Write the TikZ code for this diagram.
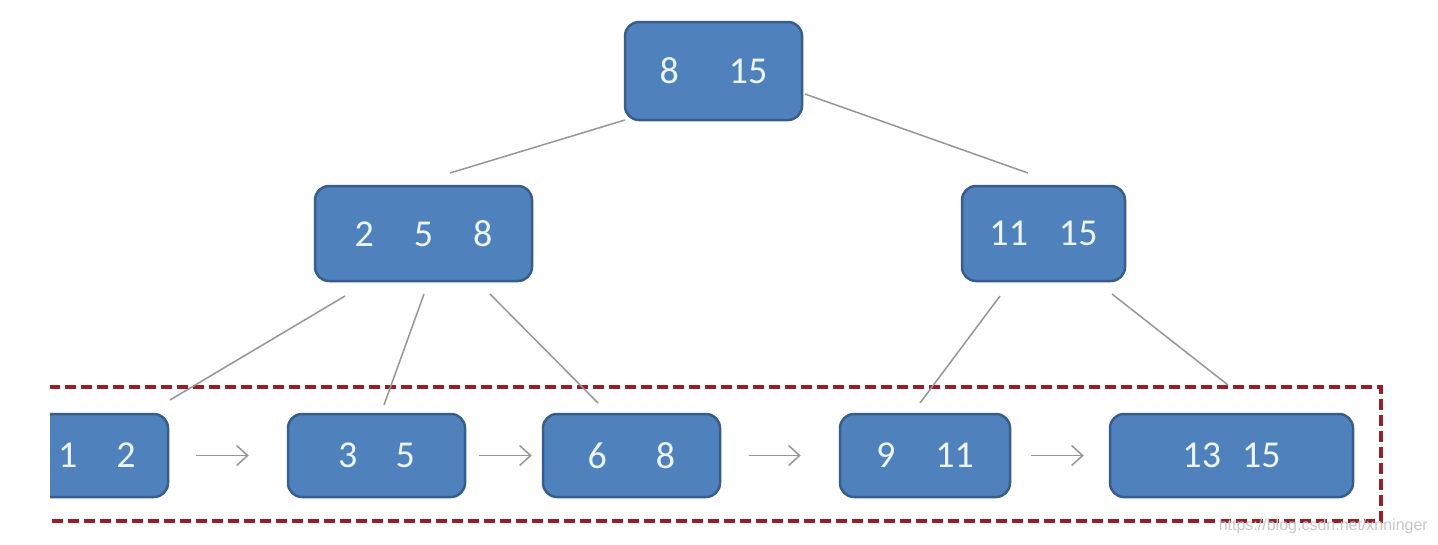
\documentclass[tikz,border=0pt]{standalone}
\usepackage{fontspec}
\setmainfont{Carlito}
\newfontfamily\wmfont{Liberation Sans}
\usetikzlibrary{arrows.meta}
\definecolor{boxfill}{RGB}{79,129,189}
\definecolor{boxline}{RGB}{56,93,138}
\definecolor{boxtext}{RGB}{236,245,250}
\definecolor{linkgray}{RGB}{150,150,150}
\definecolor{dashred}{RGB}{150,32,42}
\tikzset{
  keybox/.style={draw=boxline, line width=2.5pt, fill=boxfill, rounded corners=14pt,
    text=boxtext, font=\fontsize{38}{40}\selectfont, inner sep=0pt, anchor=center},
  link/.style={draw=linkgray, line width=1.5pt},
  arr/.style={draw=linkgray, line width=1.5pt, -{Straight Barb[length=11pt,width=20pt,line width=1.5pt]}},
  leafzone/.style={draw=dashred, line width=4pt, dash pattern=on 11pt off 5pt}
}
\begin{document}
\begin{tikzpicture}[x=1pt,y=-1pt]
\useasboundingbox (0,0) rectangle (1438,544);
\fill[white] (0,0) rectangle (1438,544);
\begin{scope}
\clip (50,0) rectangle (1438,544);
% nodes
\node[keybox, minimum width=177pt, minimum height=98pt] (root) at (713.5,71) {8\hspace{50pt}15};
\node[keybox, minimum width=217pt, minimum height=95pt] (lm) at (423.5,233.5) {2\hspace{40pt}5\hspace{40pt}8};
\node[keybox, minimum width=163pt, minimum height=95pt] (rm) at (1043.5,233.5) {11\hspace{31pt}15};
\node[keybox, minimum width=142pt, minimum height=83pt] (l1) at (97,455.5) {1\hspace{39pt}2};
\node[keybox, minimum width=177pt, minimum height=83pt] (l2) at (376.5,455.5) {3\hspace{38pt}5};
\node[keybox, minimum width=177pt, minimum height=83pt] (l3) at (631.5,455.5) {6\hspace{49pt}8};
\node[keybox, minimum width=170pt, minimum height=83pt] (l4) at (925,455.5) {9\hspace{40pt}11};
\node[keybox, minimum width=243pt, minimum height=83pt] (l5) at (1231.5,455.5) {13\hspace{21pt}15};
% dashed leaf zone
\node[leafzone, minimum width=1361pt, minimum height=134pt, inner sep=0pt] (zone) at (700.5,454) {};
% tree links
\coordinate (r1) at (625,120); \coordinate (r2) at (450,173);
\coordinate (r3) at (805,94);  \coordinate (r4) at (1028,173);
\coordinate (a1) at (345,296); \coordinate (a2) at (170,400);
\coordinate (b1) at (424,294); \coordinate (b2) at (384,405);
\coordinate (c1) at (490,294); \coordinate (c2) at (598,403);
\coordinate (d1) at (1000,296); \coordinate (d2) at (920,403);
\coordinate (e1) at (1112,294); \coordinate (e2) at (1228,385);
\draw[link] (r1) -- (r2);
\draw[link] (r3) -- (r4);
\draw[link] (a1) -- (a2);
\draw[link] (b1) -- (b2);
\draw[link] (c1) -- (c2);
\draw[link] (d1) -- (d2);
\draw[link] (e1) -- (e2);
% leaf arrows
\draw[arr] ([xshift=27pt]l1.east) -- ([xshift=-38pt]l2.west);
\draw[arr] ([xshift=13pt]l2.east) -- ([xshift=-10pt]l3.west);
\draw[arr] ([xshift=28pt]l3.east) -- ([xshift=-38pt]l4.west);
\draw[arr] ([xshift=20pt]l4.east) -- ([xshift=-25pt]l5.west);
\end{scope}
\node[anchor=east, text=black!22, font=\wmfont\fontsize{16}{17}\selectfont, inner sep=0pt] (wm) at (1428,526) {https://blog.csdn.net/xnninger};
\end{tikzpicture}
\end{document}
